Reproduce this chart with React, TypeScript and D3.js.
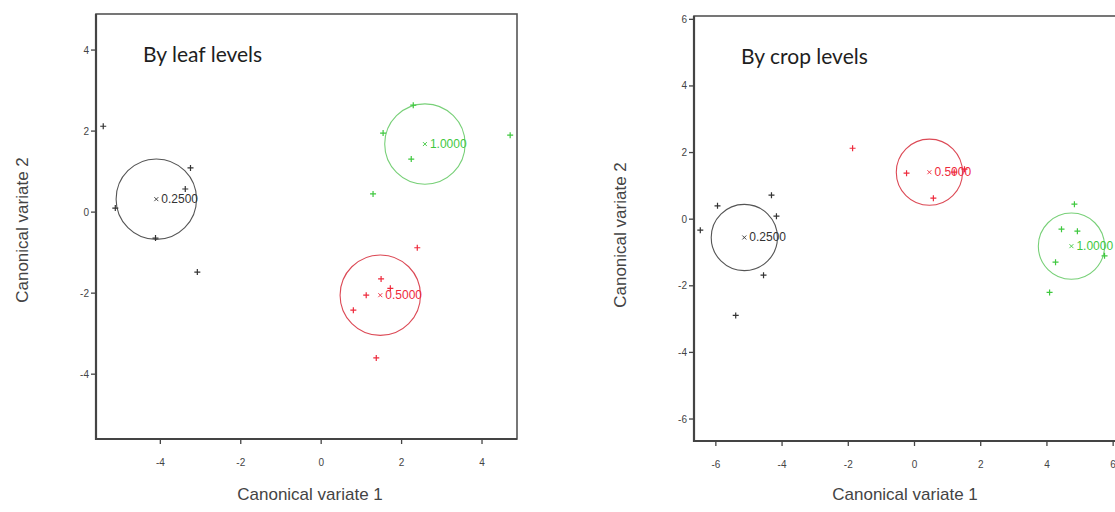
import React from 'react'
import * as d3 from 'd3'

// group labels (leaf / crop levels)
const groupLabels = ['0.2500', '0.5000', '1.0000']

// By leaf levels: observations per group
const leafX025 = [-5.42, -3.25, -3.38, -5.12, -4.12, -3.08]
const leafY025 = [2.12, 1.09, 0.57, 0.1, -0.64, -1.48]
const leafX050 = [2.39, 1.49, 1.12, 0.8, 1.37, 1.72]
const leafY050 = [-0.88, -1.65, -2.05, -2.42, -3.6, -1.88]
const leafX100 = [2.29, 1.54, 2.24, 1.29, 4.7]
const leafY100 = [2.64, 1.95, 1.31, 0.45, 1.9]
const leafCentroidX = [-4.1, 1.47, 2.58]
const leafCentroidY = [0.32, -2.05, 1.68]

// By crop levels
const cropX025 = [-5.95, -4.32, -4.17, -6.47, -4.56, -5.4]
const cropY025 = [0.4, 0.72, 0.09, -0.33, -1.68, -2.89]
const cropX050 = [-1.87, -0.24, 0.57, 1.2, 1.51]
const cropY050 = [2.13, 1.38, 0.63, 1.41, 1.5]
const cropX100 = [4.83, 4.44, 4.92, 4.26, 4.08, 5.74]
const cropY100 = [0.45, -0.3, -0.36, -1.29, -2.2, -1.1]
const cropCentroidX = [-5.14, 0.45, 4.74]
const cropCentroidY = [-0.55, 1.41, -0.81]

const leafTicksX = [-4, -2, 0, 2, 4]
const leafTicksY = [-4, -2, 0, 2, 4]
const cropTicksX = [-6, -4, -2, 0, 2, 4, 6]
const cropTicksY = [-6, -4, -2, 0, 2, 4, 6]

const colors = ['#333333', '#ee2a3c', '#3fc83f']
const circleColors = ['#555555', '#dc4a56', '#78d078']

function Panel(props: any) {
  const { x, y, groups, centroidX, centroidY, ticksX, ticksY, title } = props
  const [x0, x1] = x.range()
  const [y0, y1] = y.range()
  const r = x(1) - x(0)
  const tickFont = { fontFamily: 'Liberation Sans, Arial', fontSize: 10, fill: '#444' }
  return (
    <g>
      {/* frame */}
      <rect x={x0} y={y1} width={x1 - x0} height={y0 - y1} fill="white" stroke="#555" strokeWidth={1.6} />
      <line x1={x0} x2={x0} y1={y1} y2={y0 + 1} stroke="#444" strokeWidth={2.2} />
      <line x1={x0 - 1} x2={x1} y1={y0} y2={y0} stroke="#444" strokeWidth={2.2} />
      {ticksX.map((t: number) => (
        <g key={'tx' + t}>
          <line x1={x(t)} x2={x(t)} y1={y0} y2={y0 + 5} stroke="#444" strokeWidth={1.3} />
          <text x={x(t)} y={y0 + 27} textAnchor="middle" style={tickFont}>{t}</text>
        </g>
      ))}
      {ticksY.map((t: number) => (
        <g key={'ty' + t}>
          <line x1={x0 - 5} x2={x0} y1={y(t)} y2={y(t)} stroke="#444" strokeWidth={1.3} />
          <text x={x0 - 7} y={y(t) + 3.5} textAnchor="end" style={tickFont}>{t}</text>
        </g>
      ))}
      <text x={x0 + 47} y={y1 + 48} style={{ fontFamily: 'Lato', fontSize: 21, fill: '#1e1e1e' }}>{title}</text>
      {groups.map((g: any, i: number) => (
        <g key={'g' + i}>
          <circle cx={x(centroidX[i])} cy={y(centroidY[i])} r={r} fill="none" stroke={circleColors[i]} strokeWidth={1.1} />
          {g.xs.map((v: number, j: number) => {
            const px = x(v)
            const py = y(g.ys[j])
            return (
              <path key={j} d={`M${px - 3},${py}H${px + 3}M${px},${py - 3}V${py + 3}`} stroke={colors[i]} strokeWidth={1.2} />
            )
          })}
          <path
            d={`M${x(centroidX[i]) - 2},${y(centroidY[i]) - 2}L${x(centroidX[i]) + 2},${y(centroidY[i]) + 2}M${x(centroidX[i]) - 2},${y(centroidY[i]) + 2}L${x(centroidX[i]) + 2},${y(centroidY[i]) - 2}`}
            stroke={colors[i]}
            strokeWidth={0.9}
          />
          <text x={x(centroidX[i]) + 5} y={y(centroidY[i]) + 4} style={{ fontFamily: 'Liberation Sans, Arial', fontSize: 12, fill: colors[i] }}>
            {groupLabels[i]}
          </text>
        </g>
      ))}
    </g>
  )
}

export default function App() {
  const leafXScale = d3.scaleLinear().domain([-5.6, 4.87]).range([96, 517])
  const leafYScale = d3.scaleLinear().domain([-5.6, 4.89]).range([439, 14])
  const cropXScale = d3.scaleLinear().domain([-6.66, 6.66]).range([694, 1135])
  const cropYScale = d3.scaleLinear().domain([-6.66, 6.1]).range([441, 16])

  const leafGroups = [
    { xs: leafX025, ys: leafY025 },
    { xs: leafX050, ys: leafY050 },
    { xs: leafX100, ys: leafY100 },
  ]
  const cropGroups = [
    { xs: cropX025, ys: cropY025 },
    { xs: cropX050, ys: cropY050 },
    { xs: cropX100, ys: cropY100 },
  ]
  const axisFont = { fontFamily: 'Liberation Sans, Arial', fontSize: 17, fill: '#444' }

  return (
    <svg width={1115} height={512} style={{ position: 'absolute', left: 0, top: 0, background: 'white' }}>
      <Panel x={leafXScale} y={leafYScale} groups={leafGroups} centroidX={leafCentroidX} centroidY={leafCentroidY}
        ticksX={leafTicksX} ticksY={leafTicksY} title="By leaf levels" />
      <Panel x={cropXScale} y={cropYScale} groups={cropGroups} centroidX={cropCentroidX} centroidY={cropCentroidY}
        ticksX={cropTicksX} ticksY={cropTicksY} title="By crop levels" />
      <text x={310} y={500} textAnchor="middle" style={axisFont}>Canonical variate 1</text>
      <text x={905} y={500} textAnchor="middle" style={axisFont}>Canonical variate 1</text>
      <text transform="translate(28,230) rotate(-90)" textAnchor="middle" style={axisFont}>Canonical variate 2</text>
      <text transform="translate(626,235) rotate(-90)" textAnchor="middle" style={axisFont}>Canonical variate 2</text>
    </svg>
  )
}
